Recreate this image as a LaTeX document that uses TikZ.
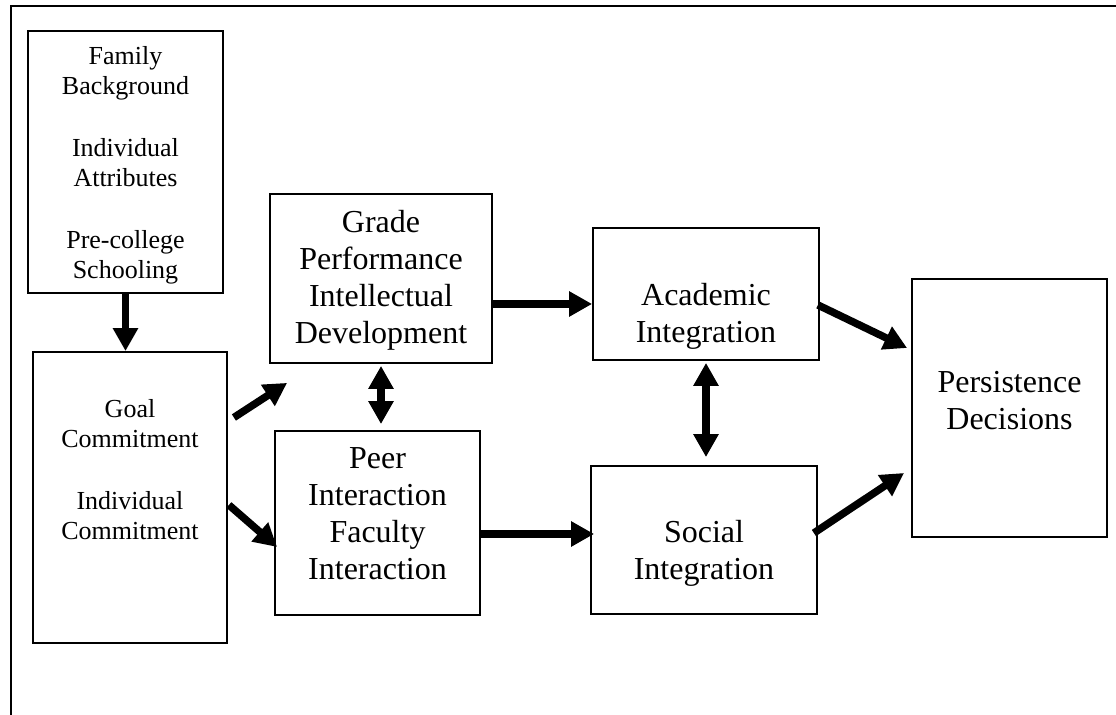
\documentclass[tikz,border=0pt]{standalone}
\usepackage{fontspec}
\setmainfont{Liberation Serif}
\usetikzlibrary{arrows.meta, calc}
\tikzset{
    factor/.style={
        rectangle,
        draw=black,
        line width=0.9pt,
        fill=white
    },
    smalltext/.style={
        align=center,
        inner sep=0pt,
        font=\fontsize{13}{15}\selectfont
    },
    bigtext/.style={
        align=center,
        inner sep=0pt,
        font=\fontsize{16}{18.5}\selectfont
    },
    arrow/.style={
        -{Triangle[length=11.5pt,width=12pt]},
        line width=3.75pt
    },
    biarrow/.style={
        {Triangle[length=11.5pt,width=12pt]}-{Triangle[length=11.5pt,width=12pt]},
        line width=3.75pt
    }
}

\begin{document}
\begin{tikzpicture}[x=0.5pt, y=-0.5pt]
    \useasboundingbox (0,0) rectangle (1116,715);
    % outer frame (cut off at right and bottom)
    \draw[line width=1pt] (1116,6) -- (11,6) -- (11,715);

    % boxes
    \node[factor, minimum width=97.5pt, minimum height=131pt]  (bg)     at (125.5,162)  {};
    \node[factor, minimum width=97pt,   minimum height=145.5pt] (commit) at (130,497.5)  {};
    \node[factor, minimum width=111pt,  minimum height=84.5pt] (grade)  at (381,278.5)  {};
    \node[factor, minimum width=102.5pt,minimum height=92pt]   (peer)   at (377.5,523)  {};
    \node[factor, minimum width=113pt,  minimum height=66pt]   (acad)   at (706,294)    {};
    \node[factor, minimum width=113pt,  minimum height=74pt]   (social) at (704,540)    {};
    \node[factor, minimum width=97.5pt, minimum height=129pt]  (pers)   at (1009.5,408) {};

    % box texts
    \node[smalltext, yshift=-1.5pt]  (bgtext)     at (bg)     {Family\\Background\\[16pt]Individual\\Attributes\\[16pt]Pre-college\\Schooling};
    \node[smalltext, yshift=13.75pt] (committext) at (commit) {Goal\\Commitment\\[16pt]Individual\\Commitment};
    \node[bigtext,   yshift=-1pt]    (gradetext)  at (grade)  {Grade\\Performance\\Intellectual\\Development};
    \node[bigtext,   yshift=4.5pt]   (peertext)   at (peer)   {Peer\\Interaction\\Faculty\\Interaction};
    \node[bigtext,   yshift=-11pt]   (acadtext)   at (acad)   {Academic\\Integration};
    \node[bigtext,   yshift=-6.75pt] (socialtext) at (social) {Social\\Integration};
    \node[bigtext,   yshift=3.75pt]  (perstext)   at (pers)   {Persistence\\Decisions};

    % connectors
    \draw[arrow]   (bg.south) -- (bg.south |- commit.north);
    \draw[arrow]   ([shift={(3pt,40pt)}]commit.east) -- ([shift={(9pt,-9.5pt)}]grade.south west);
    \draw[arrow]   ([shift={(0.5pt,-3.75pt)}]commit.east) -- ([shift={(1.5pt,-12pt)}]peer.west);
    \draw[biarrow] ([yshift=-1pt]grade.south) -- ($(grade.south |- peer.north)+(0,3pt)$);
    \draw[arrow]   ([yshift=-12.75pt]grade.east) -- ([yshift=-5pt]acad.west);
    \draw[arrow]   ([yshift=-5.5pt]peer.east) -- ([shift={(2pt,3pt)}]social.west);
    \draw[biarrow] ([yshift=-1pt]acad.south) -- ($(acad.south |- social.north)+(0,4pt)$);
    \draw[arrow]   ([shift={(-1pt,-5.5pt)}]acad.east) -- ([shift={(-2pt,30pt)}]pers.west);
    \draw[arrow]   ([shift={(-2pt,3.5pt)}]social.east) -- ([shift={(-3.5pt,-32.5pt)}]pers.west);
\end{tikzpicture}
\end{document}
